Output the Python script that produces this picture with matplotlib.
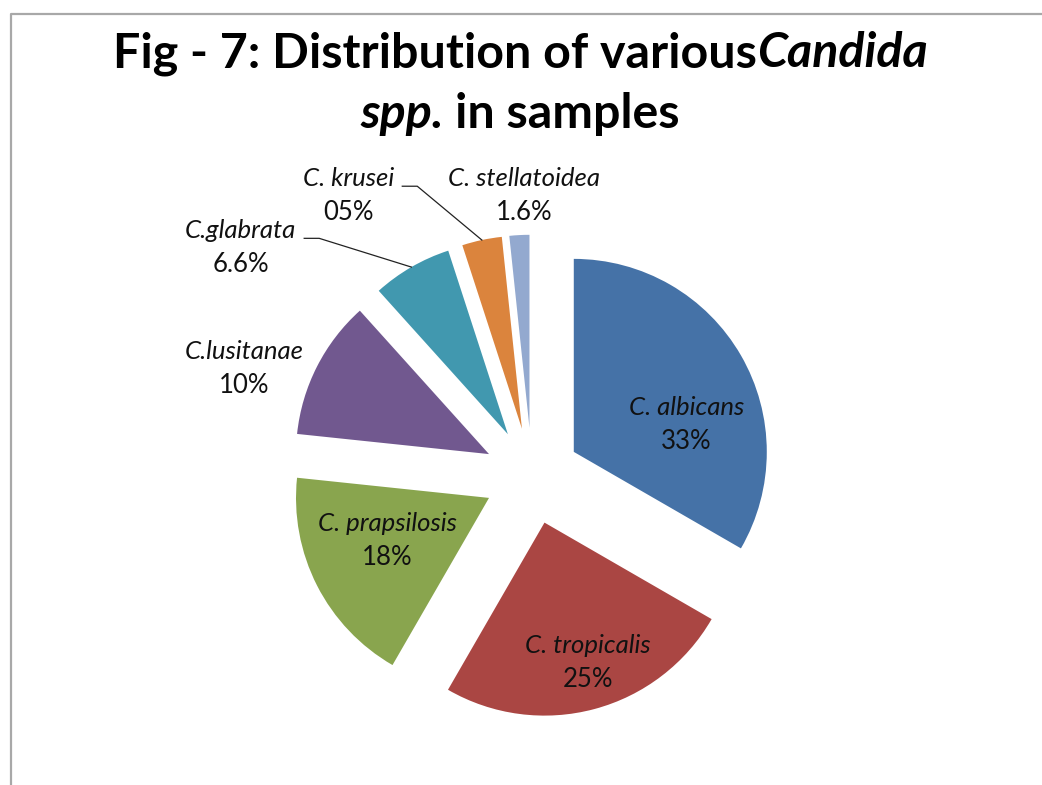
import matplotlib

matplotlib.use("Agg")
import matplotlib.pyplot as plt
from matplotlib.lines import Line2D
import numpy as np

# Data: wedge sizes are isolate counts,
# the printed labels are kept exactly as they appear on the chart
species = ["C. albicans", "C. tropicalis", "C. prapsilosis", "C.lusitanae",
           "C.glabrata", "C. krusei", "C. stellatoidea"]
isolates = [20, 15, 11, 7, 4, 2, 1]
pct_labels = ["33%", "25%", "18%", "10%", "6.6%", "05%", "1.6%"]
colors = ["#4572A7", "#AA4643", "#89A54E", "#71588F",
          "#4198AF", "#DB843D", "#93A9CF"]

# label anchors, in pie radii from the (unexploded) centre
label_dx = [0.80, 0.29, -0.75, -1.49, -1.51, -0.95, -0.04]
label_dy = [0.27, -0.96, -0.33, 0.56, 1.19, 1.46, 1.46]
has_leader = [False, False, False, False, True, True, False]

FONT = "Lato"
W, H = 1042, 785

fig = plt.figure(figsize=(W / 100, H / 100), dpi=100)
fig.patch.set_facecolor("white")
ax = fig.add_axes([0, 0, 1, 1])

cx, cy, R = 532, H - 476, 193
explode = 0.25 * R  # pie() takes the offset in data units
wedges, _ = ax.pie(
    isolates,
    colors=colors,
    explode=[explode] * len(isolates),
    startangle=90,
    counterclock=False,
    center=(cx, cy),
    radius=R,
    wedgeprops=dict(linewidth=0),
)
ax.set_xlim(0, W)
ax.set_ylim(0, H)
ax.axis("off")

fig.canvas.draw()
renderer = fig.canvas.get_renderer()


def text_width(s, **kw):
    t = ax.text(0, 0, s, **kw)
    w = t.get_window_extent(renderer).width
    t.remove()
    return w


def mixed_line(parts, x_center, y, size):
    """Draw bold text segments with their own style, centred as one line."""
    kw = dict(fontsize=size, fontweight="bold", family=FONT, va="baseline")
    widths = []
    for s, st in parts:
        widths.append(text_width(s, style=st, **kw) if s.strip() else
                      text_width("a a", **kw) - text_width("aa", **kw))
    x = x_center - sum(widths) / 2
    for (s, st), w in zip(parts, widths):
        if s.strip():
            ax.text(x, y, s, style=st, color="black", **kw)
        x += w


mixed_line([("Fig - 7: Distribution of various", "normal"), ("Candida", "italic")],
           520, H - 67, 34.8)
mixed_line([("spp.", "italic"), (" ", "normal"), ("in samples", "normal")],
           520, H - 128, 34.8)

# data labels
for i, w in enumerate(wedges):
    lx = cx + label_dx[i] * R
    ly = cy + label_dy[i] * R
    name = ax.text(lx, ly + 16, species[i], ha="center", va="center",
                   fontsize=18.5, style="italic", family=FONT, color="#111111")
    ax.text(lx, ly - 18, pct_labels[i], ha="center", va="center",
            fontsize=18.5, family=FONT, color="#111111")
    if has_leader[i]:
        bb = name.get_window_extent(renderer)
        x0 = bb.x1 + 8
        y0 = ly + 8
        th = np.deg2rad(0.5 * (w.theta1 + w.theta2))
        px = w.center[0] + w.r * np.cos(th)
        py = w.center[1] + w.r * np.sin(th)
        ax.plot([x0, x0 + 15, px], [y0, y0, py], color="#222222", lw=0.9)

# frame of the original figure
fig.add_artist(Line2D([10.5 / W, 10.5 / W, 1], [0, 1 - 14 / H, 1 - 14 / H],
                      transform=fig.transFigure, color="#a8a8a8", lw=1.6))

fig.savefig("out.png", dpi=100, facecolor="white")
